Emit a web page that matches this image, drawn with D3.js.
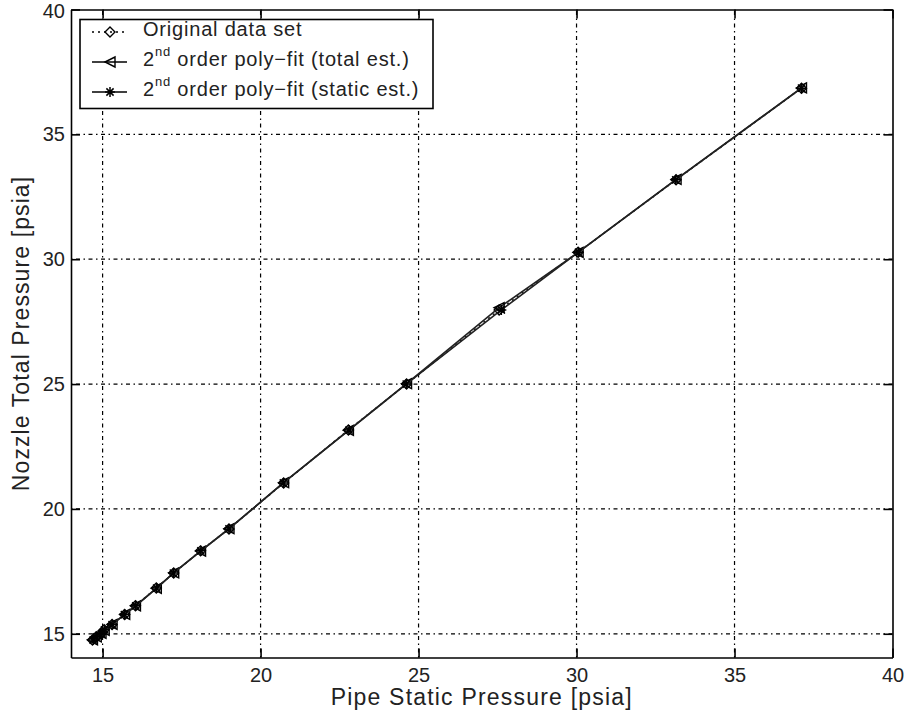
<!DOCTYPE html>
<html>
<head>
<meta charset="utf-8">
<script src="https://cdn.jsdelivr.net/npm/d3@7.8.5/dist/d3.min.js"></script>
<style>
  html, body { margin: 0; padding: 0; background: #fff; }
  svg { display: block; font-family: "Liberation Sans", Arial, sans-serif; }
</style>
</head>
<body>
<div id="chart"></div>
<script>
// measured data (psia)
const pipeStatic  = [14.68, 14.8, 14.95, 15.05, 15.3, 15.7, 16.04, 16.7, 17.25, 18.1, 19.0, 20.73, 22.78, 24.62, 27.55, 30.05, 33.15, 37.12];
const nozzleTotal = [14.75, 14.88, 15.0, 15.16, 15.37, 15.77, 16.12, 16.83, 17.43, 18.32, 19.2, 21.04, 23.16, 25.0, 27.97, 30.28, 33.18, 36.85];

// 2nd order poly-fit, total pressure estimated from static
const fitTotalX = pipeStatic;
const fitTotalY = [14.76, 14.88, 15.02, 15.14, 15.38, 15.78, 16.12, 16.82, 17.44, 18.31, 19.21, 21.05, 23.15, 25.02, 28.06, 30.27, 33.2, 36.86];

// 2nd order poly-fit, static pressure estimated from total
const fitStaticX = [14.7, 14.8, 14.96, 15.06, 15.3, 15.69, 16.05, 16.71, 17.24, 18.11, 19.0, 20.72, 22.8, 24.61, 27.62, 30.06, 33.14, 37.12];
const fitStaticY = nozzleTotal;

const xTicks = [15, 20, 25, 30, 35, 40];
const yTicks = [15, 20, 25, 30, 35, 40];

const legendItems = [
  { pre: "Original data set", sup: "", post: "", dash: "2,4", marker: "diamond" },
  { pre: "2", sup: "nd", post: " order poly\u2212fit (total est.)", dash: null, marker: "triangle" },
  { pre: "2", sup: "nd", post: " order poly\u2212fit (static est.)", dash: null, marker: "star" },
];

const width = 908, height = 721;
const margin = { top: 9.5, right: 15.5, bottom: 63.5, left: 71 };

const svg = d3.select("#chart").append("svg")
  .attr("width", width)
  .attr("height", height);

const x = d3.scaleLinear().domain([14, 40])
  .range([margin.left, width - margin.right]);
const y = d3.scaleLinear().domain([14.05, 40])
  .range([height - margin.bottom, margin.top]);

const x0 = x.range()[0], x1 = x.range()[1];
const y0 = y.range()[0], y1 = y.range()[1];

// grid
const grid = svg.append("g").attr("class", "grid")
  .attr("stroke", "#000").attr("stroke-width", 1.2)
  .attr("stroke-dasharray", "1.5,3.5,4,3.5");
grid.selectAll(".gx").data(xTicks.filter(d => d < 40)).enter().append("line")
  .attr("x1", d => x(d)).attr("x2", d => x(d))
  .attr("y1", y0).attr("y2", y1);
grid.selectAll(".gy").data(yTicks.filter(d => d < 40)).enter().append("line")
  .attr("x1", x0).attr("x2", x1)
  .attr("y1", d => y(d)).attr("y2", d => y(d));

// axes on all four sides, ticks inward
const tickLen = 9;
const xAxisB = svg.append("g").attr("transform", `translate(0,${y0})`)
  .call(d3.axisBottom(x).tickValues(xTicks).tickSizeInner(-tickLen).tickSizeOuter(0));
const xAxisT = svg.append("g").attr("transform", `translate(0,${y1})`)
  .call(d3.axisTop(x).tickValues(xTicks).tickSizeInner(-tickLen).tickSizeOuter(0).tickFormat(""));
const yAxisL = svg.append("g").attr("transform", `translate(${x0},0)`)
  .call(d3.axisLeft(y).tickValues(yTicks).tickSizeInner(-tickLen).tickSizeOuter(0));
const yAxisR = svg.append("g").attr("transform", `translate(${x1},0)`)
  .call(d3.axisRight(y).tickValues(yTicks).tickSizeInner(-tickLen).tickSizeOuter(0).tickFormat(""));

svg.selectAll(".domain").attr("stroke", "#000").attr("stroke-width", 1.6);
svg.selectAll(".tick line").attr("stroke", "#000").attr("stroke-width", 1.6);
svg.selectAll(".tick text")
  .style("font-family", "'Liberation Sans', Arial, sans-serif")
  .style("font-size", "20px")
  .style("fill", "#222");
xAxisB.selectAll(".tick text").attr("y", 10);
yAxisL.selectAll(".tick text").attr("x", -6);
// keep the top label inside the page
yAxisL.selectAll(".tick text").filter(d => d === 40).attr("dy", "0.42em");

// axis titles
svg.append("text")
  .attr("x", (x0 + x1) / 2).attr("y", 705)
  .attr("text-anchor", "middle")
  .style("font-size", "23px").style("letter-spacing", "1.2px").style("fill", "#222")
  .text("Pipe Static Pressure [psia]");
svg.append("text")
  .attr("transform", `translate(29,${(y0 + y1) / 2}) rotate(-90)`)
  .attr("text-anchor", "middle")
  .style("font-size", "23px").style("letter-spacing", "1.1px").style("fill", "#222")
  .text("Nozzle Total Pressure [psia]");

// markers
function drawMarker(g, type, cx, cy) {
  const r = 5;
  if (type === "diamond") {
    g.append("path")
      .attr("d", `M${cx},${cy - r}L${cx + r},${cy}L${cx},${cy + r}L${cx - r},${cy}Z`)
      .attr("fill", "none").attr("stroke", "#000").attr("stroke-width", 1.4);
  } else if (type === "triangle") {
    g.append("path")
      .attr("d", `M${cx - r},${cy}L${cx + r},${cy - r}L${cx + r},${cy + r}Z`)
      .attr("fill", "none").attr("stroke", "#000").attr("stroke-width", 1.4);
  } else {
    const s = r * 0.72;
    g.append("path")
      .attr("d", `M${cx - r},${cy}L${cx + r},${cy}M${cx},${cy - r}L${cx},${cy + r}` +
        `M${cx - s},${cy - s}L${cx + s},${cy + s}M${cx - s},${cy + s}L${cx + s},${cy - s}`)
      .attr("fill", "none").attr("stroke", "#000").attr("stroke-width", 1.5);
  }
}

const series = [
  { xs: pipeStatic, ys: nozzleTotal, dash: "2,4", marker: "diamond" },
  { xs: fitTotalX, ys: fitTotalY, dash: null, marker: "triangle" },
  { xs: fitStaticX, ys: fitStaticY, dash: null, marker: "star" },
];

const line = d3.line().x(d => x(d[0])).y(d => y(d[1]));
const plot = svg.append("g").attr("class", "plot");

series.forEach(s => {
  const pts = s.xs.map((v, i) => [v, s.ys[i]]);
  plot.append("path")
    .datum(pts)
    .attr("d", line)
    .attr("fill", "none")
    .attr("stroke", "#222")
    .attr("stroke-width", 1.6)
    .attr("stroke-dasharray", s.dash);
  const mg = plot.append("g");
  pts.forEach(p => drawMarker(mg, s.marker, x(p[0]), y(p[1])));
});

// legend
const legend = svg.append("g").attr("class", "legend");
legend.append("rect")
  .attr("x", 80).attr("y", 19.5)
  .attr("width", 353).attr("height", 89)
  .attr("fill", "#fff").attr("stroke", "#000").attr("stroke-width", 1.6);

const rowBase = [36, 66, 96];
legendItems.forEach((d, i) => {
  const cy = rowBase[i] - 4;
  const g = legend.append("g");
  g.append("line")
    .attr("x1", 92).attr("x2", 127).attr("y1", cy).attr("y2", cy)
    .attr("stroke", "#000").attr("stroke-width", 1.5)
    .attr("stroke-dasharray", d.dash);
  drawMarker(g, d.marker, 110, cy);
  const t = g.append("text")
    .attr("x", 143).attr("y", rowBase[i])
    .style("font-size", "20px").style("letter-spacing", "0.8px").style("fill", "#222");
  t.append("tspan").text(d.pre);
  if (d.sup) {
    t.append("tspan").attr("dy", -10).style("font-size", "13px").text(d.sup);
    t.append("tspan").attr("dy", 10).text(d.post);
  }
});
</script>
</body>
</html>
